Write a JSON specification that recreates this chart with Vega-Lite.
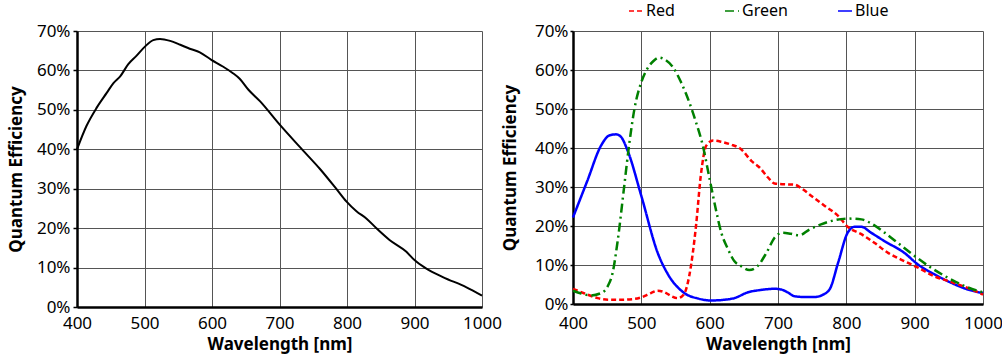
{
  "$schema": "https://vega.github.io/schema/vega-lite/v6.json",
  "padding": {"left": 7, "top": 3, "right": 0, "bottom": 4},
  "background": "white",
  "spacing": -1,
  "datasets": {
    "mono": [
      {"nm": 400, "qe": 40.0}, {"nm": 414, "qe": 45.9}, {"nm": 429, "qe": 50.5}, {"nm": 444, "qe": 54.3},
      {"nm": 454, "qe": 56.8}, {"nm": 464, "qe": 58.5}, {"nm": 476, "qe": 61.6}, {"nm": 488, "qe": 63.7},
      {"nm": 501, "qe": 66.1}, {"nm": 513, "qe": 67.7}, {"nm": 523, "qe": 68.0}, {"nm": 538, "qe": 67.5},
      {"nm": 553, "qe": 66.5}, {"nm": 567, "qe": 65.5}, {"nm": 582, "qe": 64.6}, {"nm": 599, "qe": 62.7},
      {"nm": 616, "qe": 61.0}, {"nm": 631, "qe": 59.3}, {"nm": 641, "qe": 57.9}, {"nm": 654, "qe": 55.1},
      {"nm": 671, "qe": 52.2}, {"nm": 700, "qe": 46.3}, {"nm": 730, "qe": 40.6}, {"nm": 760, "qe": 35.0},
      {"nm": 784, "qe": 30.0}, {"nm": 799, "qe": 26.8}, {"nm": 814, "qe": 24.3}, {"nm": 829, "qe": 22.4},
      {"nm": 844, "qe": 19.9}, {"nm": 863, "qe": 17.0}, {"nm": 888, "qe": 14.0}, {"nm": 900, "qe": 11.9},
      {"nm": 917, "qe": 9.8}, {"nm": 942, "qe": 7.6}, {"nm": 977, "qe": 5.0}, {"nm": 1000, "qe": 2.9}
    ],
    "rgb": [
      {"ch": "Blue", "nm": 400, "qe": 22.2}, {"ch": "Blue", "nm": 421, "qe": 31.6}, {"ch": "Blue", "nm": 441, "qe": 40.6},
      {"ch": "Blue", "nm": 453, "qe": 43.2}, {"ch": "Blue", "nm": 463, "qe": 43.5}, {"ch": "Blue", "nm": 470, "qe": 42.9},
      {"ch": "Blue", "nm": 480, "qe": 39.3}, {"ch": "Blue", "nm": 500, "qe": 27.7}, {"ch": "Blue", "nm": 524, "qe": 13.1},
      {"ch": "Blue", "nm": 539, "qe": 7.6}, {"ch": "Blue", "nm": 563, "qe": 2.8}, {"ch": "Blue", "nm": 583, "qe": 1.4},
      {"ch": "Blue", "nm": 602, "qe": 0.9}, {"ch": "Blue", "nm": 622, "qe": 1.1}, {"ch": "Blue", "nm": 636, "qe": 1.5},
      {"ch": "Blue", "nm": 656, "qe": 3.0}, {"ch": "Blue", "nm": 675, "qe": 3.6}, {"ch": "Blue", "nm": 695, "qe": 3.9},
      {"ch": "Blue", "nm": 705, "qe": 3.7}, {"ch": "Blue", "nm": 714, "qe": 3.0}, {"ch": "Blue", "nm": 724, "qe": 2.0},
      {"ch": "Blue", "nm": 739, "qe": 1.8}, {"ch": "Blue", "nm": 754, "qe": 1.8}, {"ch": "Blue", "nm": 766, "qe": 2.4},
      {"ch": "Blue", "nm": 776, "qe": 3.9}, {"ch": "Blue", "nm": 788, "qe": 10.6}, {"ch": "Blue", "nm": 802, "qe": 18.3},
      {"ch": "Blue", "nm": 812, "qe": 19.8}, {"ch": "Blue", "nm": 822, "qe": 19.8}, {"ch": "Blue", "nm": 836, "qe": 18.3},
      {"ch": "Blue", "nm": 856, "qe": 16.1}, {"ch": "Blue", "nm": 885, "qe": 13.1}, {"ch": "Blue", "nm": 905, "qe": 10.1},
      {"ch": "Blue", "nm": 929, "qe": 7.6}, {"ch": "Blue", "nm": 954, "qe": 5.4}, {"ch": "Blue", "nm": 978, "qe": 3.7},
      {"ch": "Blue", "nm": 1000, "qe": 2.8},
      {"ch": "Red", "nm": 400, "qe": 3.9}, {"ch": "Red", "nm": 417, "qe": 2.7}, {"ch": "Red", "nm": 436, "qe": 1.5},
      {"ch": "Red", "nm": 451, "qe": 1.1}, {"ch": "Red", "nm": 470, "qe": 1.1}, {"ch": "Red", "nm": 490, "qe": 1.3},
      {"ch": "Red", "nm": 500, "qe": 1.7}, {"ch": "Red", "nm": 514, "qe": 2.8}, {"ch": "Red", "nm": 524, "qe": 3.4},
      {"ch": "Red", "nm": 534, "qe": 3.0}, {"ch": "Red", "nm": 544, "qe": 2.0}, {"ch": "Red", "nm": 553, "qe": 1.5},
      {"ch": "Red", "nm": 562, "qe": 2.4}, {"ch": "Red", "nm": 570, "qe": 7.1}, {"ch": "Red", "nm": 580, "qe": 20.0},
      {"ch": "Red", "nm": 587, "qe": 32.9}, {"ch": "Red", "nm": 595, "qe": 40.6}, {"ch": "Red", "nm": 605, "qe": 41.9},
      {"ch": "Red", "nm": 617, "qe": 41.6}, {"ch": "Red", "nm": 631, "qe": 40.9}, {"ch": "Red", "nm": 646, "qe": 39.7},
      {"ch": "Red", "nm": 661, "qe": 36.7}, {"ch": "Red", "nm": 673, "qe": 35.0}, {"ch": "Red", "nm": 685, "qe": 32.5},
      {"ch": "Red", "nm": 695, "qe": 30.9}, {"ch": "Red", "nm": 709, "qe": 30.7}, {"ch": "Red", "nm": 724, "qe": 30.6},
      {"ch": "Red", "nm": 734, "qe": 29.7}, {"ch": "Red", "nm": 749, "qe": 27.7}, {"ch": "Red", "nm": 768, "qe": 25.2},
      {"ch": "Red", "nm": 788, "qe": 22.6}, {"ch": "Red", "nm": 802, "qe": 19.8}, {"ch": "Red", "nm": 822, "qe": 17.9},
      {"ch": "Red", "nm": 841, "qe": 15.7}, {"ch": "Red", "nm": 861, "qe": 13.1}, {"ch": "Red", "nm": 880, "qe": 11.4},
      {"ch": "Red", "nm": 905, "qe": 9.3}, {"ch": "Red", "nm": 929, "qe": 7.1}, {"ch": "Red", "nm": 954, "qe": 5.6},
      {"ch": "Red", "nm": 978, "qe": 4.1}, {"ch": "Red", "nm": 1000, "qe": 2.4},
      {"ch": "Green", "nm": 400, "qe": 3.4}, {"ch": "Green", "nm": 412, "qe": 2.7}, {"ch": "Green", "nm": 426, "qe": 2.2},
      {"ch": "Green", "nm": 441, "qe": 2.8}, {"ch": "Green", "nm": 451, "qe": 4.6}, {"ch": "Green", "nm": 458, "qe": 8.0},
      {"ch": "Green", "nm": 465, "qe": 15.7}, {"ch": "Green", "nm": 475, "qe": 30.3}, {"ch": "Green", "nm": 482, "qe": 40.6},
      {"ch": "Green", "nm": 490, "qe": 50.1}, {"ch": "Green", "nm": 500, "qe": 56.9}, {"ch": "Green", "nm": 509, "qe": 60.4},
      {"ch": "Green", "nm": 519, "qe": 62.5}, {"ch": "Green", "nm": 526, "qe": 63.2}, {"ch": "Green", "nm": 536, "qe": 62.5},
      {"ch": "Green", "nm": 546, "qe": 60.8}, {"ch": "Green", "nm": 558, "qe": 56.9}, {"ch": "Green", "nm": 570, "qe": 51.8},
      {"ch": "Green", "nm": 580, "qe": 46.6}, {"ch": "Green", "nm": 590, "qe": 40.6}, {"ch": "Green", "nm": 600, "qe": 32.0},
      {"ch": "Green", "nm": 609, "qe": 24.3}, {"ch": "Green", "nm": 617, "qe": 18.3}, {"ch": "Green", "nm": 627, "qe": 14.0},
      {"ch": "Green", "nm": 636, "qe": 11.0}, {"ch": "Green", "nm": 646, "qe": 9.7}, {"ch": "Green", "nm": 658, "qe": 8.7},
      {"ch": "Green", "nm": 670, "qe": 9.7}, {"ch": "Green", "nm": 683, "qe": 13.1}, {"ch": "Green", "nm": 695, "qe": 17.0},
      {"ch": "Green", "nm": 707, "qe": 18.3}, {"ch": "Green", "nm": 719, "qe": 18.0}, {"ch": "Green", "nm": 731, "qe": 17.6},
      {"ch": "Green", "nm": 746, "qe": 19.1}, {"ch": "Green", "nm": 763, "qe": 20.4}, {"ch": "Green", "nm": 783, "qe": 21.5},
      {"ch": "Green", "nm": 802, "qe": 21.9}, {"ch": "Green", "nm": 822, "qe": 21.7}, {"ch": "Green", "nm": 836, "qe": 20.7},
      {"ch": "Green", "nm": 856, "qe": 18.3}, {"ch": "Green", "nm": 875, "qe": 15.7}, {"ch": "Green", "nm": 900, "qe": 12.3},
      {"ch": "Green", "nm": 924, "qe": 9.3}, {"ch": "Green", "nm": 949, "qe": 6.7}, {"ch": "Green", "nm": 973, "qe": 4.6},
      {"ch": "Green", "nm": 1000, "qe": 3.0}
    ]
  },
  "hconcat": [
    {
      "width": 405,
      "height": 276,
      "data": {"name": "mono"},
      "mark": {"type": "line", "color": "black", "strokeWidth": 2, "interpolate": "monotone"},
      "encoding": {
        "x": {
          "field": "nm", "type": "quantitative",
          "scale": {"domain": [400, 1000], "nice": false, "zero": false},
          "axis": {"title": "Wavelength [nm]", "values": [400, 500, 600, 700, 800, 900, 1000], "format": "d", "labelFlush": false, "tickSize": 0, "labelPadding": 8, "titlePadding": 5}
        },
        "y": {
          "field": "qe", "type": "quantitative",
          "scale": {"domain": [0, 70], "nice": false},
          "axis": {"title": "Quantum Efficiency", "values": [0, 10, 20, 30, 40, 50, 60, 70], "labelExpr": "datum.value + '%'", "labelFlush": false, "tickSize": 4, "labelPadding": 3, "titlePadding": 11}
        }
      }
    },
    {
      "width": 410,
      "height": 273,
      "data": {"name": "rgb"},
      "mark": {"type": "line", "strokeWidth": 2.5, "interpolate": "monotone"},
      "encoding": {
        "x": {
          "field": "nm", "type": "quantitative",
          "scale": {"domain": [400, 1000], "nice": false, "zero": false},
          "axis": {"title": "Wavelength [nm]", "values": [400, 500, 600, 700, 800, 900, 1000], "format": "d", "labelFlush": false, "tickSize": 0, "labelPadding": 11, "titlePadding": 5}
        },
        "y": {
          "field": "qe", "type": "quantitative",
          "scale": {"domain": [0, 70], "nice": false},
          "axis": {"title": "Quantum Efficiency", "values": [0, 10, 20, 30, 40, 50, 60, 70], "labelExpr": "datum.value + '%'", "labelFlush": false, "tickSize": 3, "labelPadding": 2, "titlePadding": 15}
        },
        "color": {
          "field": "ch", "type": "nominal",
          "scale": {"domain": ["Red", "Green", "Blue"], "range": ["#ff0000", "#008000", "#0000ff"]},
          "legend": {"title": null, "orient": "none", "legendX": 551, "legendY": -28, "direction": "horizontal"}
        },
        "strokeDash": {
          "field": "ch", "type": "nominal",
          "scale": {"domain": ["Red", "Green", "Blue"], "range": [[5, 3], [9, 4, 2, 4], [1, 0]]},
          "legend": {"title": null, "orient": "none", "legendX": 551, "legendY": -28, "direction": "horizontal"}
        }
      }
    }
  ],
  "config": {
    "view": {"stroke": null},
    "axis": {
      "labelFont": "Noto Sans", "labelFontSize": 17, "labelColor": "black",
      "titleFont": "Noto Sans", "titleFontWeight": "bold", "titleFontSize": 17, "titleColor": "black",
      "gridColor": "#555555", "gridWidth": 1, "gridOpacity": 1,
      "domainColor": "black", "domainWidth": 2.5, "tickColor": "black", "tickWidth": 1.5
    },
    "legend": {
      "labelFont": "Noto Sans", "labelFontSize": 16, "labelColor": "black",
      "symbolType": "stroke", "symbolSize": 196, "symbolStrokeWidth": 1.5,
      "columnPadding": 47, "labelOffset": 2, "padding": 0
    }
  }
}
